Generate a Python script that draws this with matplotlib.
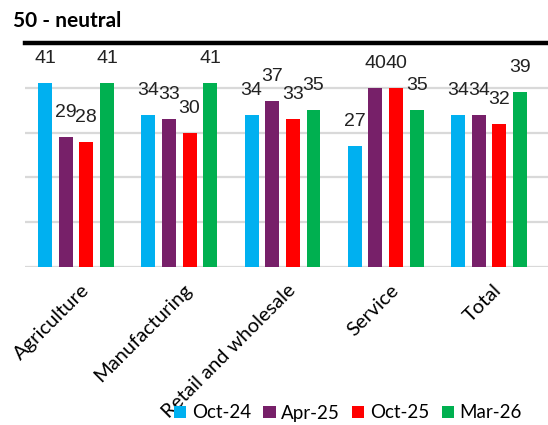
import matplotlib
matplotlib.use("Agg")
import matplotlib.pyplot as plt
import numpy as np
from matplotlib.patches import Patch

categories = ["Agriculture", "Manufacturing", "Retail and wholesale", "Service", "Total"]
periods = ["Oct-24", "Apr-25", "Oct-25", "Mar-26"]
oct24 = [41, 34, 34, 27, 34]
apr25 = [29, 33, 37, 40, 34]
oct25 = [28, 30, 33, 40, 32]
mar26 = [41, 41, 35, 35, 39]
series = [oct24, apr25, oct25, mar26]
colors = ["#00B0F0", "#772069", "#FF0000", "#00B050"]
neutral = 50

fig = plt.figure(figsize=(5.48, 4.25), dpi=100)
ax = fig.add_axes([25 / 548, (425 - 267.3) / 425, 1 - 25 / 548, (267.3 - 42.7) / 425])

x = np.arange(len(categories))
offsets = [-0.3, -0.1, 0.1, 0.3]
width = 0.135
for vals, off, col in zip(series, offsets, colors):
    bars = ax.bar(x + off, vals, width=width, color=col, zorder=3)
    for b, v in zip(bars, vals):
        ax.annotate(f"{v}", (b.get_x() + b.get_width() / 2, v),
                    xytext=(0, 17.5), textcoords="offset points",
                    ha="center", va="center", fontsize=14,
                    family="Liberation Sans", color="#222222", zorder=5)

ax.set_xlim(-0.494, 4.571)
ax.set_ylim(0, neutral)
for g in [0, 10, 20, 30, 40]:
    ax.axhline(g, color="#d9d9d9", lw=1.6, zorder=1)
ax.axhline(neutral, color="black", lw=3.2, zorder=4, clip_on=False)

for s in ax.spines.values():
    s.set_visible(False)
ax.set_yticks([])
ax.set_xticks(x + 0.04)
ax.set_xticklabels(categories, rotation=45, ha="right", rotation_mode="anchor",
                   fontsize=14.5, family="Lato")
ax.tick_params(axis="x", length=0, pad=10)

handles = [Patch(facecolor=c, label=p) for c, p in zip(colors, periods)]
fig.legend(handles=handles, loc="center", bbox_to_anchor=(348 / 548, 1 - 413 / 425),
           ncol=4, frameon=False, prop={"family": "Lato", "size": 13.5},
           handlelength=0.65, handleheight=0.65, handletextpad=0.3,
           columnspacing=0.65, borderaxespad=0)

fig.text(13 / 548, 1 - 21 / 425, "50 - neutral", fontsize=15, fontweight="bold",
         family="Lato", va="center", ha="left")

fig.savefig("out.png", dpi=100)
